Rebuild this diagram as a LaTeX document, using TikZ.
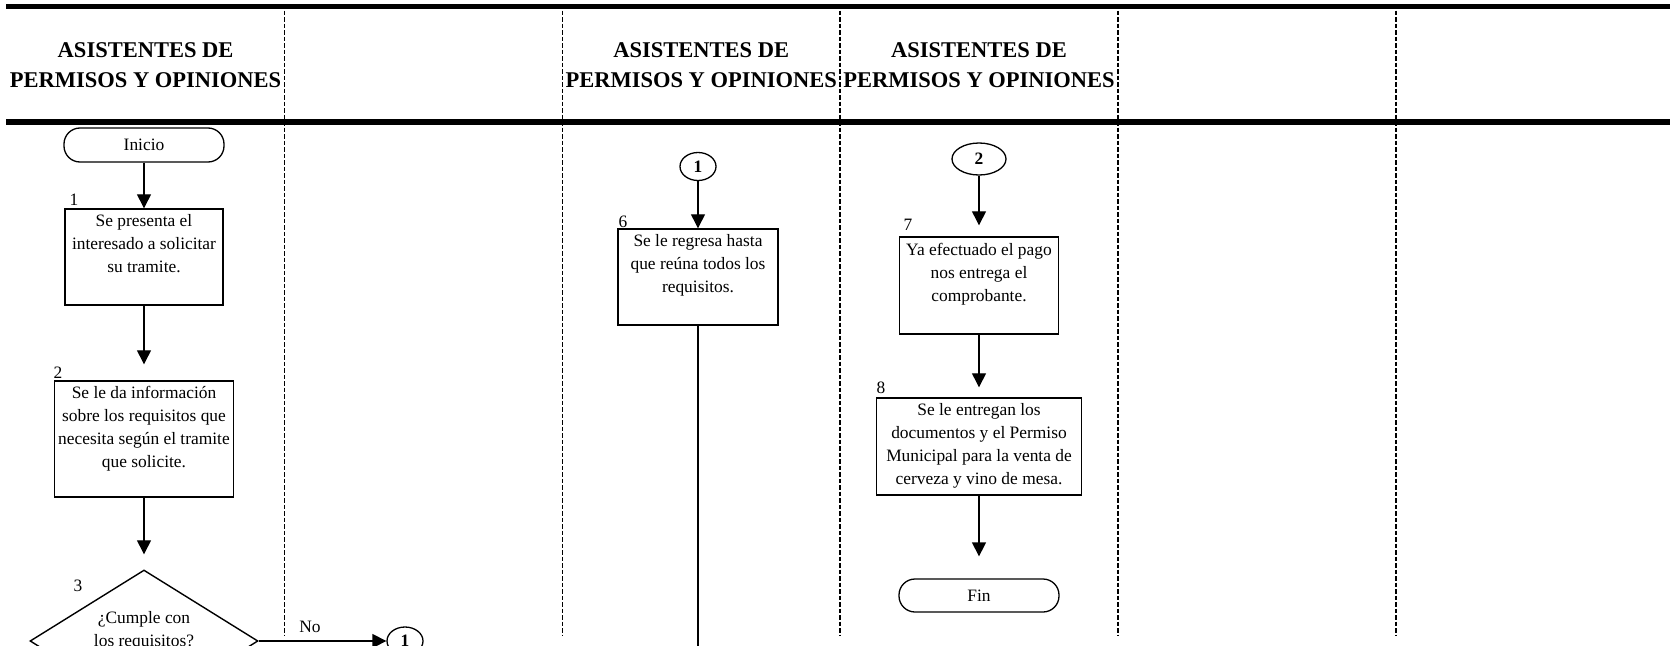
\documentclass[tikz,border=0pt]{standalone}
\usepackage{fontspec}
\setmainfont{Liberation Serif}
\usetikzlibrary{arrows.meta,shapes.geometric}
\begin{document}
\begin{tikzpicture}[x=1pt,y=-1pt,
  lane/.style={line width=1.6pt, dash pattern=on 4.5pt off 2pt},
  rule/.style={line width=5.8pt},
  head/.style={font=\bfseries\fontsize{22.5}{30}\selectfont, align=center, inner sep=0pt},
  body/.style={font=\fontsize{17.4}{22.9}\selectfont, align=center, inner sep=0pt},
  num/.style={font=\fontsize{17.4}{20}\selectfont, inner sep=0pt},
  stepbox/.style={draw, line width=1.4pt, inner sep=0pt},
  terminal/.style={draw, line width=1.3pt, rounded corners=16pt, inner sep=0pt,
    minimum width=160pt, font=\fontsize{17.4}{20}\selectfont},
  decision/.style={draw, diamond, line width=1.4pt, inner sep=0pt},
  conn/.style={draw, ellipse, line width=1.3pt, inner sep=0pt,
    font=\bfseries\fontsize{17.4}{20}\selectfont},
  plain/.style={line width=1.3pt},
  flow/.style={line width=1.3pt, -{Triangle[length=14pt,width=14pt]}}
]
\useasboundingbox (0,0) rectangle (1670,645);
\clip (0,0) rectangle (1670,645);

% header rules and lane separators
\draw[rule] (6,6.5) -- (1670,6.5);
\draw[rule] (6,122) -- (1670,122);
\foreach \x in {284.5,562.3,840.1,1117.9,1395.7}
  \draw[lane] (\x,4) -- (\x,635);

% lane titles
\node[head] (h1) at (145.6,65) {ASISTENTES DE\\PERMISOS Y OPINIONES};
\node[head] (h3) at (701.2,65) {ASISTENTES DE\\PERMISOS Y OPINIONES};
\node[head] (h4) at (979,65) {ASISTENTES DE\\PERMISOS Y OPINIONES};

% ---- first lane
\node[terminal, minimum height=34pt] (ini) at (144,145) {Inicio};

\node[stepbox, minimum width=158pt, minimum height=96pt] (s1) at (144,257) {};
\node[body, anchor=north] (s1t) at ([yshift=-6pt]s1.north)
  {Se presenta el\\interesado a solicitar\\su tramite.};
\node[num] (n1) at (74,200) {1};

\node[stepbox, minimum width=179pt, minimum height=116pt] (s2) at (144,439) {};
\node[body, anchor=north] (s2t) at ([yshift=-6pt]s2.north)
  {Se le da información\\sobre los requisitos que\\necesita según el tramite\\que solicite.};
\node[num] (n2) at (58,373) {2};

\node[decision, minimum width=228pt, minimum height=142pt] (d3) at (144,641) {};
\node[body] (d3t) at (144,630.5) {¿Cumple con\\los requisitos?};
\node[num] (n3) at (78,586) {3};

\node[body] (no) at (310,627) {No};
\node[conn, minimum width=36pt, minimum height=28pt] (c1a) at (405,641) {1};

\draw[flow] (ini.south) -- (s1.north);
\draw[flow, shorten >=16pt] (s1.south) -- (s2.north);
\draw[flow, shorten >=15pt] (s2.south) -- (d3.north);
\draw[flow] (d3.east) -- (c1a.west);

% ---- third lane
\node[conn, minimum width=36pt, minimum height=28pt] (c1b) at (698,166.5) {1};
\node[stepbox, minimum width=160pt, minimum height=96pt] (s6) at (698,277) {};
\node[body, anchor=north] (s6t) at ([yshift=-6pt]s6.north)
  {Se le regresa hasta\\que reúna todos los\\requisitos.};
\node[num] (n6) at (623,222) {6};
\coordinate (s6end) at (698,660);

\draw[flow] (c1b.south) -- (s6.north);
\draw[plain] (s6.south) -- (s6end);

% ---- fourth lane
\node[conn, minimum width=54pt, minimum height=32pt] (c2) at (979,159) {2};
\node[stepbox, minimum width=159pt, minimum height=97pt] (s7) at (979,285.5) {};
\node[body, anchor=north] (s7t) at ([yshift=-7pt]s7.north)
  {Ya efectuado el pago\\nos entrega el\\comprobante.};
\node[num] (n7) at (908,225) {7};

\node[stepbox, minimum width=205pt, minimum height=97pt] (s8) at (979,446.5) {};
\node[body, anchor=north] (s8t) at ([yshift=-6pt]s8.north)
  {Se le entregan los\\documentos y el Permiso\\Municipal para la venta de\\cerveza y vino de mesa.};
\node[num] (n8) at (881,388) {8};

\node[terminal, minimum height=33pt] (fin) at (979,595.5) {Fin};

\draw[flow, shorten >=11pt] (c2.south) -- (s7.north);
\draw[flow, shorten >=10pt] (s7.south) -- (s8.north);
\draw[flow, shorten >=22pt] (s8.south) -- (fin.north);
\end{tikzpicture}
\end{document}
